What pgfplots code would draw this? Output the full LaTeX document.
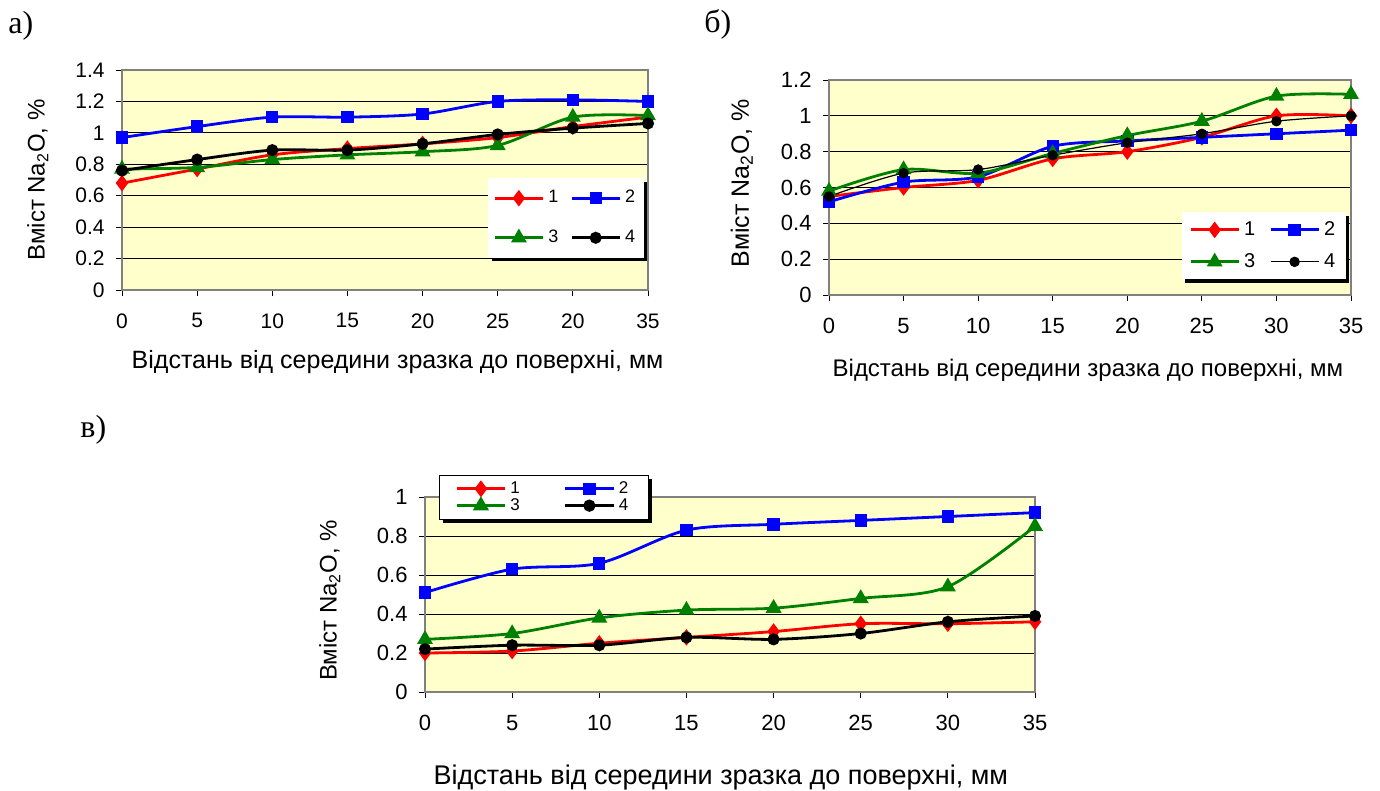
\documentclass[border=0pt]{standalone}
\usepackage{pgfplots}
\pgfplotsset{compat=1.18}
\usepackage{fontspec}
\setmainfont{Liberation Sans}
\newfontfamily\panelfont{Liberation Serif}
\usetikzlibrary{shadows}
\definecolor{bgyellow}{RGB}{255,255,204}
\definecolor{axgray}{RGB}{128,128,128}
\definecolor{xlgreen}{RGB}{0,128,0}
\makeatletter
\tikzset{noshadow/.code={\let\tikz@preactions\pgfutil@empty}}
\makeatother

\pgfplotsset{
  excel/.style={
    scale only axis,
    clip=false,
    axis background/.style={fill=bgyellow},
    axis line style={axgray, line width=0.8pt},
    ymajorgrids, grid style={black, line width=0.5pt},
    tick align=outside, major tick length=3.2pt,
    tick style={black, line width=0.5pt},
    xtick pos=bottom, ytick pos=left,
    xtick={0,5,...,35}, xmin=0, xmax=35, ymin=0,
    /pgf/number format/assume math mode=true,
    ticklabel style={font=\fontsize{10.5}{12}\selectfont},
    yticklabel style={/pgf/number format/fixed, /pgf/number format/precision=1, xshift=-2pt},
    xticklabel style={yshift=-5pt},
    label style={font=\fontsize{12}{14}\selectfont},
    legend columns=2,
    legend cell align=left,
    legend image code/.code={\draw[noshadow,mark repeat=2,mark phase=2] plot coordinates {(0pt,0pt)(12pt,0pt)(24pt,0pt)};},
  },
  s1/.style={red, line width=1.4pt, smooth, tension=0.5, mark=diamond*, mark size=3pt, mark options={solid}},
  s2/.style={blue, line width=1.4pt, smooth, tension=0.5, mark=square*, mark size=2.4pt, mark options={solid}},
  s3/.style={xlgreen, line width=1.4pt, smooth, tension=0.5, mark=triangle*, mark size=3.2pt, mark options={solid}},
  s4/.style={black, line width=1.4pt, smooth, tension=0.5, mark=*, mark size=2.3pt, mark options={solid}},
}

\begin{document}
\begin{tikzpicture}
\path[use as bounding box] (0,0) rectangle (690pt,-395.5pt);

\node[anchor=west, inner sep=0pt, font=\panelfont\fontsize{16}{18}\selectfont] at (4pt,-13pt) {а)};
\node[anchor=west, inner sep=0pt, font=\panelfont\fontsize{16}{18}\selectfont] at (352pt,-12pt) {б)};
\node[anchor=west, inner sep=0pt, font=\panelfont\fontsize{16}{18}\selectfont] at (40pt,-215pt) {в)};

% ---------- a)
\begin{axis}[excel,
  at={(61pt,-145pt)}, anchor=south west,
  width=263pt, height=110pt,
  ymax=1.4, ytick={0,0.2,...,1.4},
  xticklabels={0,5,10,15,20,25,20,35},
  xlabel={Відстань від середини зразка до поверхні, мм},
  ylabel={Вміст Na\textsubscript{2}O, \%},
  xlabel style={at={(axis description cs:0.524,-0.327)}, anchor=center, font=\fontsize{12.5}{14}\selectfont},
  ylabel style={at={(axis description cs:-0.16,0.5)}, anchor=center},
  legend style={at={(0.696,0.509)}, anchor=north west, draw=none, fill=white,
    drop shadow={shadow xshift=1.6pt, shadow yshift=-1.6pt, fill=black, opacity=1},
    font=\fontsize{9}{10}\selectfont, inner xsep=2.5pt, inner ysep=4pt, row sep=8pt,
    /tikz/every even column/.append style={column sep=4pt}},
]
\addplot[s1] coordinates {(0,0.68)(5,0.77)(10,0.86)(15,0.90)(20,0.93)(25,0.97)(30,1.04)(35,1.10)};
\addplot[s2] coordinates {(0,0.97)(5,1.04)(10,1.10)(15,1.10)(20,1.12)(25,1.20)(30,1.21)(35,1.20)};
\addplot[s3] coordinates {(0,0.77)(5,0.78)(10,0.83)(15,0.86)(20,0.88)(25,0.92)(30,1.10)(35,1.11)};
\addplot[s4] coordinates {(0,0.76)(5,0.83)(10,0.89)(15,0.89)(20,0.93)(25,0.99)(30,1.03)(35,1.06)};
\legend{1,2,3,4}
\end{axis}

% ---------- б)
\begin{axis}[excel,
  at={(414.5pt,-147.5pt)}, anchor=south west,
  width=261pt, height=107.5pt,
  ymax=1.2, ytick={0,0.2,...,1.2},
  ticklabel style={font=\fontsize{11}{12}\selectfont},
  xlabel={Відстань від середини зразка до поверхні, мм},
  ylabel={Вміст Na\textsubscript{2}O, \%},
  xlabel style={at={(axis description cs:0.496,-0.349)}, anchor=center},
  ylabel style={at={(axis description cs:-0.167,0.52)}, anchor=center, font=\fontsize{12.5}{14}\selectfont},
  legend style={at={(0.676,0.386)}, anchor=north west, draw=none, fill=white,
    drop shadow={shadow xshift=1.6pt, shadow yshift=-1.6pt, fill=black, opacity=1},
    font=\fontsize{10}{11}\selectfont, inner xsep=3.5pt, inner ysep=2.5pt, row sep=3.5pt,
    /tikz/every even column/.append style={column sep=5pt}},
]
\addplot[s1] coordinates {(0,0.55)(5,0.60)(10,0.64)(15,0.76)(20,0.80)(25,0.88)(30,1.00)(35,1.00)};
\addplot[s2] coordinates {(0,0.52)(5,0.63)(10,0.66)(15,0.83)(20,0.86)(25,0.88)(30,0.90)(35,0.92)};
\addplot[s3] coordinates {(0,0.58)(5,0.70)(10,0.68)(15,0.79)(20,0.89)(25,0.97)(30,1.11)(35,1.12)};
\addplot[s4, line width=0.6pt] coordinates {(0,0.55)(5,0.68)(10,0.70)(15,0.78)(20,0.85)(25,0.90)(30,0.97)(35,1.00)};
\legend{1,2,3,4}
\end{axis}

% ---------- в)
\begin{axis}[excel,
  at={(212.5pt,-346pt)}, anchor=south west,
  width=305pt, height=97.5pt,
  ymax=1, ytick={0,0.2,...,1.0},
  ticklabel style={font=\fontsize{11}{12}\selectfont},
  xlabel={Відстань від середини зразка до поверхні, мм},
  ylabel={Вміст Na\textsubscript{2}O, \%},
  xlabel style={at={(axis description cs:0.485,-0.436)}, anchor=center, font=\fontsize{13.5}{15}\selectfont},
  ylabel style={at={(axis description cs:-0.156,0.47)}, anchor=center},
  legend image code/.code={\draw[noshadow,line width=1.5pt,mark repeat=2,mark phase=2] plot coordinates {(0pt,0pt)(12pt,0pt)(24pt,0pt)};},
  legend style={at={(0.023,1.113)}, anchor=north west, draw=black, fill=white,
    drop shadow={shadow xshift=1.8pt, shadow yshift=-1.8pt, fill=black, opacity=1},
    font=\fontsize{8.5}{9}\selectfont, inner xsep=8pt, inner ysep=1pt, row sep=-3pt,
    /tikz/every even column/.append style={column sep=20pt}},
]
\addplot[s1] coordinates {(0,0.20)(5,0.21)(10,0.25)(15,0.28)(20,0.31)(25,0.35)(30,0.35)(35,0.36)};
\addplot[s2] coordinates {(0,0.51)(5,0.63)(10,0.66)(15,0.83)(20,0.86)(25,0.88)(30,0.90)(35,0.92)};
\addplot[s3] coordinates {(0,0.27)(5,0.30)(10,0.38)(15,0.42)(20,0.43)(25,0.48)(30,0.54)(35,0.85)};
\addplot[s4] coordinates {(0,0.22)(5,0.24)(10,0.24)(15,0.28)(20,0.27)(25,0.30)(30,0.36)(35,0.39)};
\legend{1,2,3,4}
\end{axis}
\end{tikzpicture}
\end{document}
